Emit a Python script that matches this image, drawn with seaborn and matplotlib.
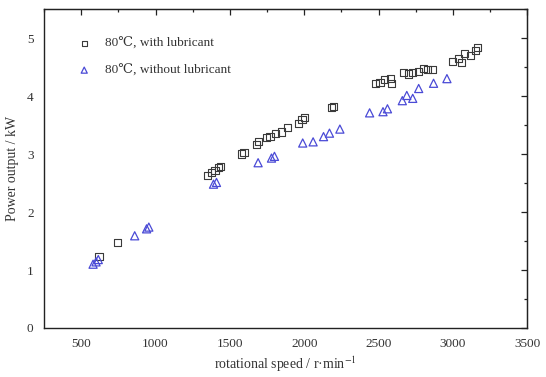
import matplotlib
matplotlib.use("Agg")
import matplotlib.pyplot as plt
import seaborn as sns
from matplotlib.ticker import MultipleLocator

sns.set_style("white")
plt.rcParams['font.family'] = ['Liberation Serif', 'DejaVu Serif']
plt.rcParams['mathtext.fontset'] = 'stix'

# with lubricant
x_lub = [620, 745, 1350, 1375, 1400, 1425, 1440, 1580, 1595, 1680, 1695, 1745, 1770,
         1810, 1845, 1890, 1960, 1985, 2005, 2185, 2200, 2480, 2510, 2540, 2580, 2590,
         2670, 2700, 2730, 2770, 2800, 2830, 2860, 3000, 3040, 3060, 3080, 3120, 3150, 3165]
y_lub = [1.23, 1.47, 2.63, 2.68, 2.72, 2.76, 2.78, 3.00, 3.03, 3.17, 3.21, 3.28, 3.30,
         3.36, 3.38, 3.45, 3.53, 3.59, 3.63, 3.80, 3.82, 4.21, 4.24, 4.28, 4.31, 4.22,
         4.40, 4.38, 4.41, 4.43, 4.47, 4.46, 4.45, 4.59, 4.64, 4.58, 4.74, 4.70, 4.79, 4.83]

# without lubricant
x_no = [580, 600, 615, 860, 940, 955, 1390, 1410, 1690, 1780, 1800, 1990, 2060, 2130,
        2170, 2240, 2440, 2530, 2560, 2660, 2690, 2730, 2770, 2870, 2960]
y_no = [1.10, 1.14, 1.18, 1.59, 1.71, 1.74, 2.48, 2.51, 2.85, 2.93, 2.96, 3.19, 3.21,
        3.30, 3.36, 3.43, 3.71, 3.73, 3.78, 3.92, 4.01, 3.96, 4.13, 4.22, 4.30]

label_lub = "80℃, with lubricant"
label_no = "80℃, without lubricant"

fig = plt.figure(figsize=(5.46, 3.77), dpi=100)
ax = fig.add_axes([0.0806, 0.13, 0.885, 0.846])

sns.scatterplot(x=x_lub, y=y_lub, marker='s', s=26, facecolor='none',
                edgecolor='#3a3a3a', linewidth=0.8, label=label_lub, ax=ax)
sns.scatterplot(x=x_no, y=y_no, marker='^', s=34, facecolor='none',
                edgecolor='#4a4ad6', linewidth=0.9, label=label_no, ax=ax)

ax.set_xlim(250, 3500)
ax.set_ylim(0, 5.5)
ax.xaxis.set_major_locator(MultipleLocator(500))
ax.xaxis.set_minor_locator(MultipleLocator(250))
ax.yaxis.set_major_locator(MultipleLocator(1))
ax.yaxis.set_minor_locator(MultipleLocator(0.5))
ax.set_xticks([500, 1000, 1500, 2000, 2500, 3000, 3500])
ax.set_yticks([0, 1, 2, 3, 4, 5])

for s in ax.spines.values():
    s.set_color('#222222')
    s.set_linewidth(1.0)

ax.tick_params(axis='both', which='both', direction='out', color='#222222',
               labelsize=9.5, labelcolor='#333333')
ax.tick_params(which='major', length=4, width=0.9)
ax.tick_params(which='minor', length=2.5, width=0.9)

ax2 = ax.secondary_xaxis('top')
ax2.xaxis.set_major_locator(MultipleLocator(500))
ax2.xaxis.set_minor_locator(MultipleLocator(250))
ax2.tick_params(which='both', direction='in', labeltop=False, color='#222222')
ax2.tick_params(which='major', length=4, width=0.9)
ax2.tick_params(which='minor', length=2.5, width=0.9)
ax3 = ax.secondary_yaxis('right')
ax3.yaxis.set_major_locator(MultipleLocator(1))
ax3.yaxis.set_minor_locator(MultipleLocator(0.5))
ax3.tick_params(which='both', direction='in', labelright=False, color='#222222')
ax3.tick_params(which='major', length=4, width=0.9)
ax3.tick_params(which='minor', length=2.5, width=0.9)
ax.tick_params(top=False, right=False, which='both')

ax.set_xlabel(r"rotational speed / r·min$^{-1}$", fontsize=10, color='#333333', labelpad=3)
ax.set_ylabel("Power output / kW", fontsize=10, color='#333333', labelpad=6)

leg = ax.legend(loc='upper left', frameon=False, fontsize=9.5, labelspacing=1.1,
                handletextpad=0.6, markerscale=0.75,
                bbox_to_anchor=(0.045, 0.927), borderaxespad=0)
for t in leg.get_texts():
    t.set_color('#333333')

fig.savefig("out.png", dpi=100)
